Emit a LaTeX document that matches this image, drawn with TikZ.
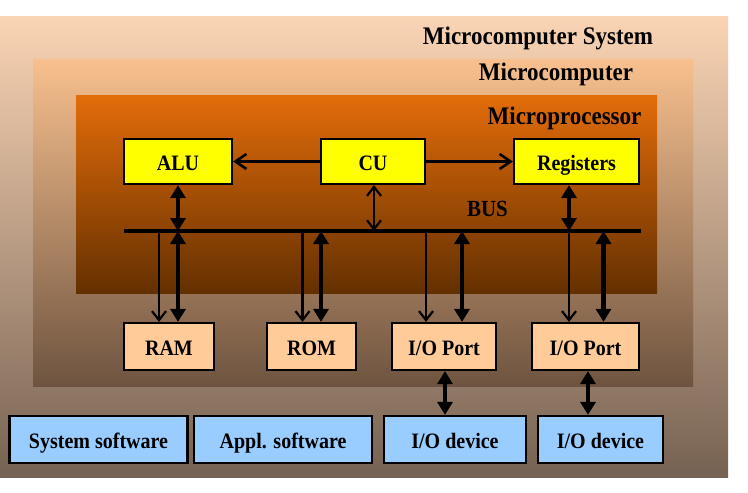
\documentclass[tikz,border=0pt]{standalone}
\usepackage{fontspec}
\setmainfont{Liberation Serif}
\usetikzlibrary{arrows.meta}
\definecolor{outTop}{RGB}{250,212,180}
\definecolor{outMid}{RGB}{205,170,142}
\definecolor{outBot}{RGB}{118,98,82}
\definecolor{mcTop}{RGB}{248,192,142}
\definecolor{mcMid}{RGB}{200,148,108}
\definecolor{mcBot}{RGB}{110,84,64}
\definecolor{mpTop}{RGB}{227,108,10}
\definecolor{mpMid}{RGB}{172,82,6}
\definecolor{mpBot}{RGB}{100,48,0}
\definecolor{boxYellow}{RGB}{255,255,0}
\definecolor{boxPeach}{RGB}{255,204,153}
\definecolor{boxBlue}{RGB}{153,204,255}
\newcommand{\vstr}[1]{\scalebox{1}[1.1]{#1}}
\begin{document}
\begin{tikzpicture}[x=1pt,y=-1pt,
  box/.style={draw=black, line width=2.2pt, inner sep=0pt, minimum height=45pt,
    text height=18pt, text depth=0pt,
    font=\fontsize{20}{22}\selectfont\bfseries},
  cpubox/.style={box, fill=boxYellow},
  portbox/.style={box, fill=boxPeach, minimum height=47pt},
  swbox/.style={box, fill=boxBlue, minimum height=47pt},
  title/.style={font=\fontsize{23}{25}\selectfont\bfseries, inner sep=0pt},
  thickarr/.style={line width=4.5pt, {Triangle[length=13pt,width=15pt]}-{Triangle[length=13pt,width=15pt]}},
  thinarr/.style={line width=2.4pt, -{Straight Barb[length=9pt,width=14pt,line width=2.2pt]}},
  thindbl/.style={line width=2.2pt, {Straight Barb[length=9pt,width=14pt,line width=2.2pt]}-{Straight Barb[length=9pt,width=14pt,line width=2.2pt]}},
  openarr/.style={line width=2.6pt, -{Straight Barb[length=11pt,width=15pt,line width=2.6pt]}},
  busline/.style={line width=4pt}
]
\useasboundingbox (0,0) rectangle (748,493);
% backgrounds
\shade[top color=outTop, middle color=outMid, bottom color=outBot] (0,16) rectangle (728,477);
\shade[top color=mcTop, middle color=mcMid, bottom color=mcBot] (33,59) rectangle (693,386);
\shade[top color=mpTop, middle color=mpMid, bottom color=mpBot] (76,95) rectangle (657,293);
% titles
\node[title] (t1) at (538,38) {\vstr{Microcomputer System}};
\node[title] (t2) at (556,74) {\vstr{Microcomputer}};
\node[title] (t3) at (564.5,118) {\vstr{Microprocessor}};
\node[title, font=\fontsize{21}{23}\selectfont\bfseries] (buslabel) at (487.5,209) {\vstr{BUS}};
% CPU boxes
\node[cpubox, minimum width=108pt] (alu) at (178,161.5) {\vstr{ALU}};
\node[cpubox, minimum width=104pt] (cu) at (373,161.5) {\vstr{CU}};
\node[cpubox, minimum width=125pt] (reg) at (576.5,161.5) {\vstr{Registers}};
% port boxes
\node[portbox, minimum width=90pt] (ram) at (169,346.5) {\vstr{RAM}};
\node[portbox, minimum width=89pt] (rom) at (311.5,346.5) {\vstr{ROM}};
\node[portbox, minimum width=104pt] (io1) at (444,346.5) {\vstr{I/O Port}};
\node[portbox, minimum width=107pt] (io2) at (585.5,346.5) {\vstr{I/O Port}};
% software / devices
\node[swbox, minimum width=178pt] (sw1) at (98.5,439.5) {\vstr{System software}};
\node[swbox, minimum width=178pt] (sw2) at (283,439.5) {\vstr{Appl. software}};
\node[swbox, minimum width=142pt] (dev1) at (455,439.5) {\vstr{I/O device}};
\node[swbox, minimum width=125pt] (dev2) at (600.5,439.5) {\vstr{I/O device}};
% bus
\coordinate (busL) at (124,231);
\coordinate (busR) at (641,231);
\draw[busline] (busL) -- (busR);
% x positions
\coordinate (xa) at (178,0);
\coordinate (xc) at (374,0);
\coordinate (xr) at (569,0);
\coordinate (x1) at (159,0);
\coordinate (x2) at (302.5,0);
\coordinate (x3) at (426,0);
\coordinate (x4) at (569,0);
\coordinate (y1) at (178,0);
\coordinate (y2) at (321,0);
\coordinate (y3) at (462,0);
\coordinate (y4) at (603.5,0);
\coordinate (d1) at (445,0);
\coordinate (d2) at (588,0);
% CU arrows
\draw[openarr] (cu.west) -- (alu.east);
\draw[openarr] (cu.east) -- (reg.west);
% CPU to bus
\draw[thickarr] (alu.south -| xa) -- (busL -| xa);
\draw[thindbl] (cu.south -| xc) -- (busL -| xc);
\draw[thickarr] (reg.south -| xr) -- (busL -| xr);
% bus to ports (thin)
\draw[thinarr] (busL -| x1) -- (ram.north -| x1);
\draw[thinarr] (busL -| x2) -- (rom.north -| x2);
\draw[thinarr] (busL -| x3) -- (io1.north -| x3);
\draw[thinarr] (busL -| x4) -- (io2.north -| x4);
% bus to ports (thick)
\draw[thickarr] (busL -| y1) -- (ram.north -| y1);
\draw[thickarr] (busL -| y2) -- (rom.north -| y2);
\draw[thickarr] (busL -| y3) -- (io1.north -| y3);
\draw[thickarr] (busL -| y4) -- (io2.north -| y4);
% ports to devices
\draw[thickarr] (io1.south -| d1) -- (dev1.north -| d1);
\draw[thickarr] (io2.south -| d2) -- (dev2.north -| d2);
\end{tikzpicture}
\end{document}
